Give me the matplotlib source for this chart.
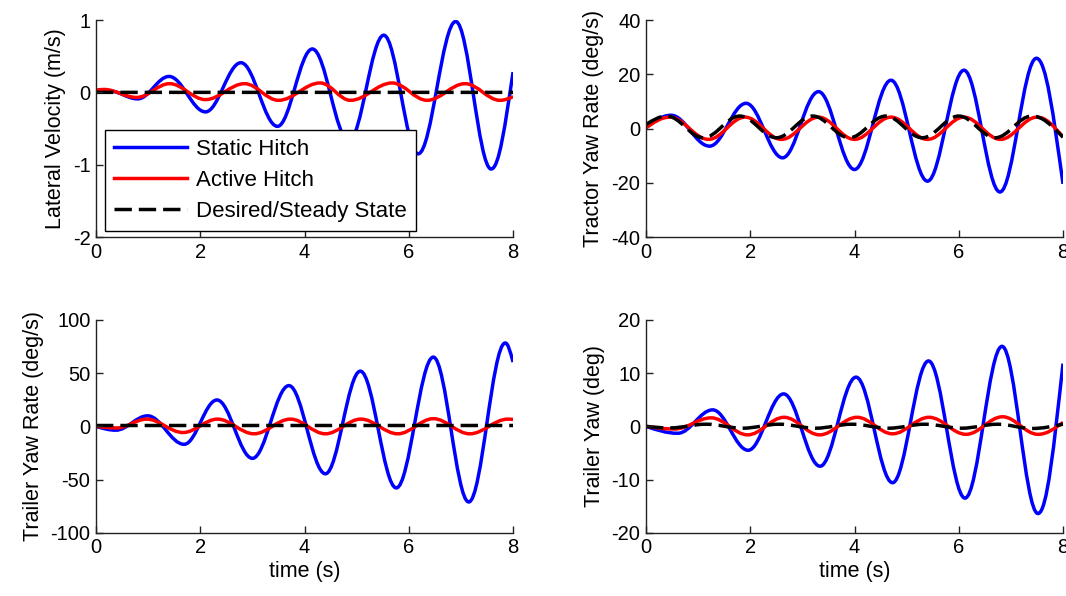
import matplotlib
matplotlib.use('Agg')
import matplotlib.pyplot as plt
from matplotlib.path import Path
from matplotlib.patches import PathPatch
from matplotlib.lines import Line2D

plt.rcParams['font.family'] = ['Liberation Sans', 'DejaVu Sans']
plt.rcParams['axes.unicode_minus'] = False

# peaks / troughs of each response (time in s, value)
lat_static_t = [0, 0.25, 0.8, 1.4, 2.1, 2.78, 3.48, 4.15, 4.85, 5.52, 6.18, 6.9, 7.58, 8.0]
lat_static = [0, 0.02, -0.09, 0.22, -0.27, 0.41, -0.47, 0.6, -0.67, 0.79, -0.85, 0.98, -1.06, 0.28]
lat_active_t = [0, 0.15, 0.78, 1.41, 2.1, 2.85, 3.5, 4.3, 4.88, 5.68, 6.35, 7.08, 7.75, 8.0]
lat_active = [0.03, 0.04, -0.07, 0.12, -0.10, 0.12, -0.11, 0.13, -0.11, 0.13, -0.11, 0.12, -0.11, -0.06]
lat_desired_t = [0, 8.0]
lat_desired = [0, 0]

tyr_static_t = [0, 0.48, 1.22, 1.92, 2.62, 3.31, 4.0, 4.7, 5.4, 6.1, 6.79, 7.49, 8.0]
tyr_static = [0.3, 4.9, -6.5, 9.3, -10.8, 13.6, -15.1, 17.8, -19.4, 21.5, -23.4, 25.9, -20.4]
tyr_active_t = [0, 0.46, 1.2, 1.9, 2.6, 3.31, 4.0, 4.7, 5.4, 6.1, 6.8, 7.5, 8.0]
tyr_active = [0.3, 4.2, -4.0, 4.2, -4.0, 4.2, -4.0, 4.2, -4.0, 4.2, -4.0, 4.2, -3.1]
tyr_desired_t = [0, 0.4, 1.1, 1.8, 2.5, 3.2, 3.9, 4.6, 5.3, 6.0, 6.7, 7.4, 8.0]
tyr_desired = [1.5, 4.6, -3.4, 4.6, -3.4, 4.6, -3.4, 4.6, -3.4, 4.6, -3.4, 4.6, -3.2]

ryr_static_t = [0, 0.38, 0.99, 1.69, 2.32, 3.0, 3.7, 4.4, 5.07, 5.76, 6.47, 7.15, 7.85, 8.0]
ryr_static = [0, -3.6, 9.9, -16.9, 24.8, -30.1, 38.3, -44.6, 51.9, -57.9, 65.1, -71.1, 78.4, 60.4]
ryr_active_t = [0, 0.4, 0.97, 1.67, 2.33, 3.03, 3.73, 4.4, 5.08, 5.79, 6.47, 7.17, 7.9, 8.0]
ryr_active = [0, -1.5, 6.8, -5.8, 6.8, -7.0, 6.8, -7.0, 6.8, -7.0, 7.2, -7.0, 6.8, 6.5]
ryr_desired_t = [0, 8.0]
ryr_desired = [0.8, 0.8]

yaw_static_t = [0, 0.61, 1.28, 1.96, 2.64, 3.34, 4.03, 4.73, 5.42, 6.12, 6.83, 7.52, 8.0]
yaw_static = [0, -1.3, 3.1, -4.5, 6.1, -7.5, 9.25, -10.6, 12.3, -13.5, 15.05, -16.4, 11.8]
yaw_active_t = [0, 0.55, 1.25, 1.95, 2.65, 3.33, 4.05, 4.73, 5.43, 6.14, 6.84, 7.52, 8.0]
yaw_active = [0, -0.5, 1.6, -1.6, 1.7, -1.6, 1.7, -1.4, 1.7, -1.5, 1.8, -1.5, 0.75]
yaw_desired_t = [0, 0.45, 1.15, 1.85, 2.55, 3.25, 3.95, 4.65, 5.35, 6.05, 6.75, 7.4, 8.0]
yaw_desired = [0, -0.3, 0.4, -0.35, 0.4, -0.35, 0.4, -0.35, 0.4, -0.35, 0.4, -0.4, 0.4]

series_names = ['Static Hitch', 'Active Hitch', 'Desired/Steady State']
ylabels = ['Lateral Velocity (m/s)', 'Tractor Yaw Rate (deg/s)',
           'Trailer Yaw Rate (deg/s)', 'Trailer Yaw (deg)']
ylims = [(-2, 1), (-40, 40), (-100, 100), (-20, 20)]
yticks = [[-2, -1, 0, 1], [-40, -20, 0, 20, 40],
          [-100, -50, 0, 50, 100], [-20, -10, 0, 10, 20]]
xticks = [0, 2, 4, 6, 8]

panels = [
    [(lat_static_t, lat_static), (lat_active_t, lat_active), (lat_desired_t, lat_desired)],
    [(tyr_static_t, tyr_static), (tyr_active_t, tyr_active), (tyr_desired_t, tyr_desired)],
    [(ryr_static_t, ryr_static), (ryr_active_t, ryr_active), (ryr_desired_t, ryr_desired)],
    [(yaw_static_t, yaw_static), (yaw_active_t, yaw_active), (yaw_desired_t, yaw_desired)],
]

colors = ['#0000ff', '#ff0000', 'k']
styles = ['-', '-', (0, (5, 2))]
LW = 2.5


def slopes(t, v):
    # flat at the turning points, steeper at the open ends
    m = []
    n = len(t)
    for i in range(n):
        if i == 0:
            m.append(1.5 * (v[1] - v[0]) / (t[1] - t[0]))
        elif i == n - 1:
            m.append(1.5 * (v[-1] - v[-2]) / (t[-1] - t[-2]))
        elif (v[i] - v[i - 1]) * (v[i + 1] - v[i]) <= 0:
            m.append(0.0)
        else:
            m.append((v[i + 1] - v[i - 1]) / (t[i + 1] - t[i - 1]))
    return m


def wave_path(t, v):
    m = slopes(t, v)
    verts = [(t[0], v[0])]
    codes = [Path.MOVETO]
    for i in range(len(t) - 1):
        h = 0.363 * (t[i + 1] - t[i])
        verts += [(t[i] + h, v[i] + h * m[i]),
                  (t[i + 1] - h, v[i + 1] - h * m[i + 1]),
                  (t[i + 1], v[i + 1])]
        codes += [Path.CURVE4] * 3
    return Path(verts, codes)


fig = plt.figure(figsize=(10.66, 5.96), dpi=100)
boxes = [[0.0901, 0.6023, 0.3912, 0.3641],
         [0.6060, 0.6023, 0.3912, 0.3641],
         [0.0901, 0.1062, 0.3912, 0.3569],
         [0.6060, 0.1062, 0.3912, 0.3569]]

for k, box in enumerate(boxes):
    ax = fig.add_axes(box)
    for (t, v), c, ls in zip(panels[k], colors, styles):
        ax.add_patch(PathPatch(wave_path(t, v), facecolor='none', edgecolor=c,
                               lw=LW, linestyle=ls, capstyle='butt', joinstyle='round'))
    ax.set_xlim(0, 8)
    ax.set_ylim(*ylims[k])
    ax.set_xticks(xticks)
    ax.set_yticks(yticks[k])
    ax.spines['top'].set_visible(False)
    ax.spines['right'].set_visible(False)
    for s in ['left', 'bottom']:
        ax.spines[s].set_linewidth(1.0)
        ax.spines[s].set_color('#222222')
    ax.tick_params(direction='in', length=5, width=1, labelsize=14.5, pad=4, colors='#222222',
                   labelcolor='k')
    ax.set_ylabel(ylabels[k], fontsize=15.5, labelpad=5)
    if k >= 2:
        ax.set_xlabel('time (s)', fontsize=15.5, labelpad=3)
    if k == 0:
        handles = [Line2D([], [], color=c, lw=LW, linestyle=ls) for c, ls in zip(colors, styles)]
        leg = ax.legend(handles, series_names, loc='lower left', bbox_to_anchor=(0.022, 0.03),
                        borderaxespad=0, fontsize=16, frameon=True, fancybox=False,
                        handlelength=3.3, handletextpad=0.4, labelspacing=0.45,
                        borderpad=0.4)
        leg.get_frame().set_edgecolor('k')
        leg.get_frame().set_linewidth(1.0)
        leg.get_frame().set_alpha(1)

fig.savefig('out.png', dpi=100)
